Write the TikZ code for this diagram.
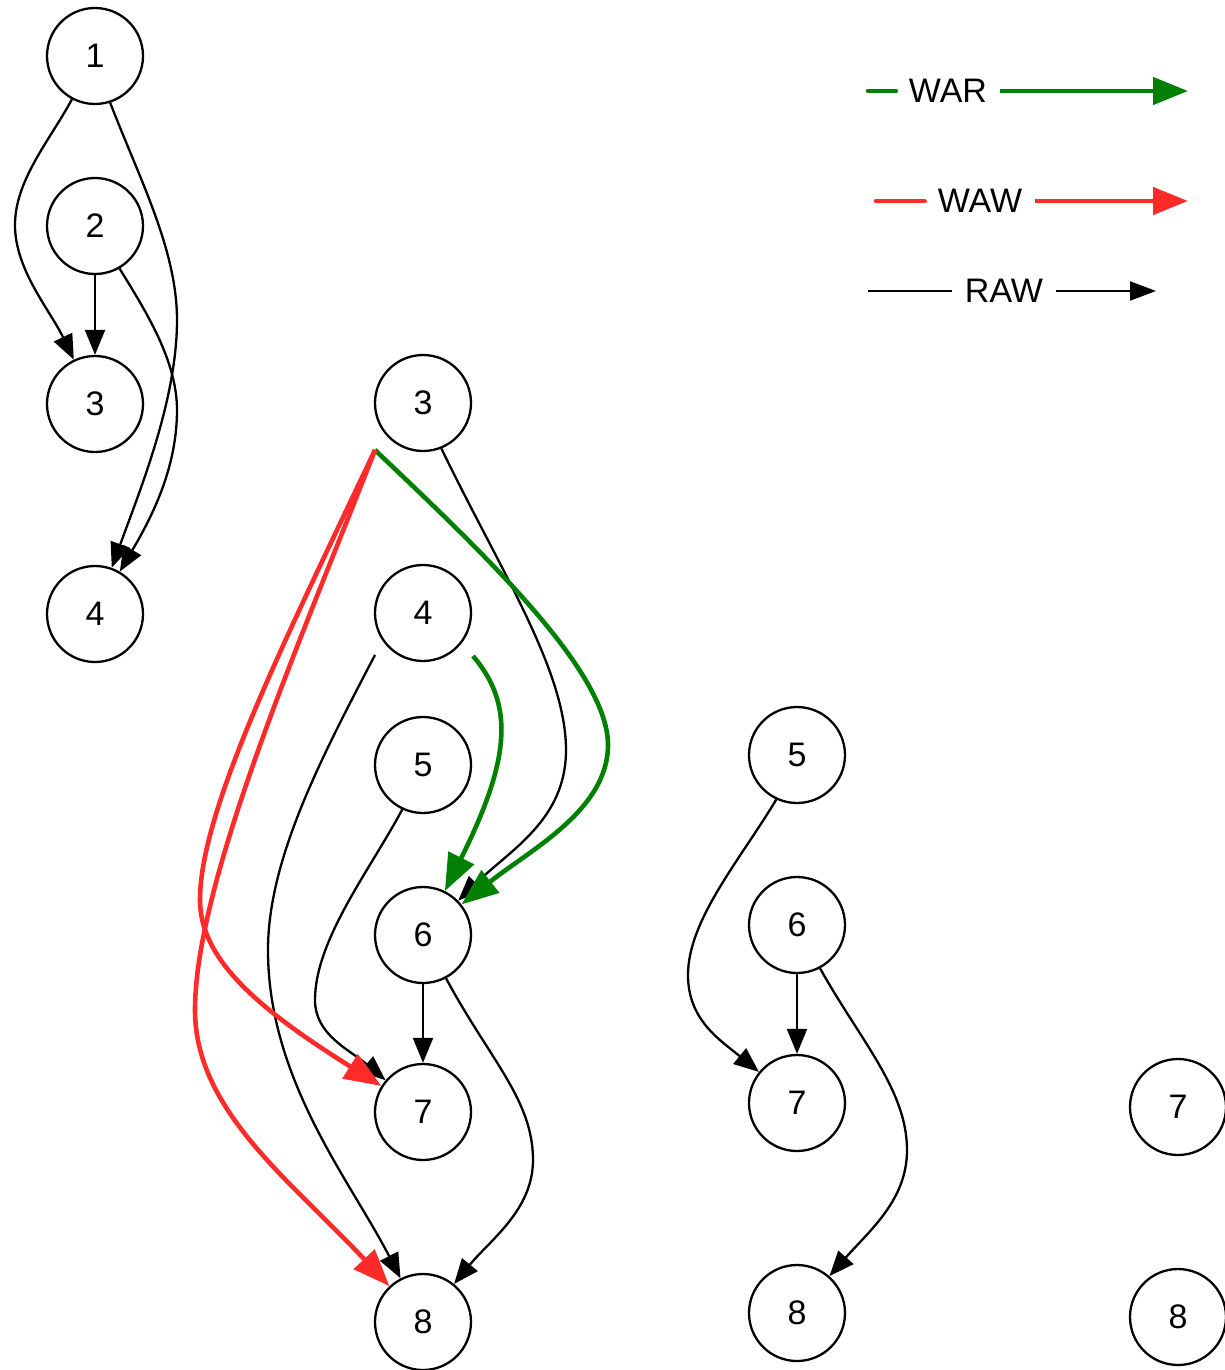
\documentclass[tikz,border=0pt]{standalone}
\usepackage{fontspec}
\setmainfont{Liberation Sans}
\usetikzlibrary{arrows.meta,calc}
\definecolor{warg}{RGB}{0,128,0}
\definecolor{wawr}{RGB}{255,42,42}
\begin{document}
\begin{tikzpicture}[x=1pt,y=-1pt,
  vtx/.style={circle,draw,line width=2.3pt,minimum size=96pt,inner sep=0pt,font=\fontsize{34}{40}\selectfont},
  raw/.style={line width=2.3pt,-{Triangle[length=25pt,width=20pt]}},
  war/.style={draw=warg,line width=4.6pt,-{Triangle[length=37pt,width=28pt]}},
  waw/.style={draw=wawr,line width=4.6pt,-{Triangle[length=37pt,width=28pt]}},
  legtxt/.style={font=\fontsize{34}{40}\selectfont,inner xsep=13pt,inner ysep=0pt}
]
\useasboundingbox (0,0) rectangle (1224,1370);

% column 1
\node[vtx] (a1) at (95,56) {1};
\node[vtx] (a2) at (95,226) {2};
\node[vtx] (a3) at (95,404) {3};
\node[vtx] (a4) at (95,614) {4};
% column 2
\node[vtx] (b3) at (423,403) {3};
\node[vtx] (b4) at (423,613) {4};
\node[vtx] (b5) at (423,765) {5};
\node[vtx] (b6) at (423,935) {6};
\node[vtx] (b7) at (423,1112) {7};
\node[vtx] (b8) at (423,1322) {8};
% column 3
\node[vtx] (c5) at (797,755) {5};
\node[vtx] (c6) at (797,925) {6};
\node[vtx] (c7) at (797,1103) {7};
\node[vtx] (c8) at (797,1313) {8};
% column 4
\node[vtx] (d7) at (1178,1107) {7};
\node[vtx] (d8) at (1178,1317) {8};

\coordinate (b3sw) at ($(b3)+(-48,47)$);
\coordinate (b4sw) at ($(b4)+(-48,42)$);
\coordinate (b4se) at ($(b4)+(50,43)$);

% column 1 edges
\draw[raw] (a1.-118) .. controls (50,140) and (15,180) .. (15,225)
  .. controls (15,270) and (50,310) .. (a3);
\draw[raw] (a1.-72) .. controls (140,180) and (177,250) .. (177,320)
  .. controls (177,400) and (140,490) .. (a4);
\draw[raw] (a2.-60) .. controls (145,310) and (177,360) .. (177,410)
  .. controls (177,470) and (150,520) .. (a4);
\draw[raw] (a2) -- (a3);

% column 2 black edges
\draw[raw] (b3.-68) .. controls (500,570) and (566,670) .. (566,750)
  .. controls (566,820) and (510,850) .. (b6);
\draw[raw] (b4sw) .. controls (320,760) and (268,860) .. (268,950)
  .. controls (268,1080) and (350,1180) .. (b8);
\draw[raw] (b5.-115) .. controls (370,870) and (315,940) .. (315,1000)
  .. controls (315,1035) and (350,1050) .. (b7);
\draw[raw] (b6) -- (b7);
\draw[raw] (b6.-62) .. controls (490,1060) and (533,1100) .. (533,1160)
  .. controls (533,1210) and (490,1240) .. (b8);

% column 2 coloured edges
\draw[war] (b3sw) .. controls (480,550) and (608,670) .. (608,745)
  .. controls (608,810) and (530,850) .. (b6);
\draw[war] (b4se) .. controls (515,705) and (510,760) .. (b6);
\draw[waw] (b3sw) .. controls (285,640) and (200,810) .. (200,900)
  .. controls (200,960) and (260,1010) .. (b7);
\draw[waw] (b3sw) .. controls (305,630) and (195,880) .. (195,1010)
  .. controls (195,1110) and (290,1180) .. (b8);

% column 3 edges
\draw[raw] (c5.-115) .. controls (740,860) and (688,920) .. (688,975)
  .. controls (688,1020) and (720,1040) .. (c7);
\draw[raw] (c6) -- (c7);
\draw[raw] (c6.-62) .. controls (860,1040) and (907,1090) .. (907,1150)
  .. controls (907,1200) and (870,1230) .. (c8);

% legend
\node[legtxt] (lwar) at (948,91) {WAR};
\coordinate (lwarA) at (868,91);
\coordinate (lwarB) at (1188,91);
\draw[warg,line width=4.6pt,line cap=round] (lwarA) -- (lwar.west);
\draw[war,-{Triangle[length=35pt,width=27pt]}] (lwar.east) -- (lwarB);

\node[legtxt] (lwaw) at (980,201) {WAW};
\coordinate (lwawA) at (876,201);
\coordinate (lwawB) at (1188,201);
\draw[wawr,line width=4.6pt,line cap=round] (lwawA) -- (lwaw.west);
\draw[waw,-{Triangle[length=35pt,width=27pt]}] (lwaw.east) -- (lwawB);

\node[legtxt] (lraw) at (1004,291) {RAW};
\coordinate (lrawA) at (868,291);
\coordinate (lrawB) at (1156,291);
\draw[line width=2.3pt] (lrawA) -- (lraw.west);
\draw[raw,-{Triangle[length=26pt,width=19pt]}] (lraw.east) -- (lrawB);
\end{tikzpicture}
\end{document}
